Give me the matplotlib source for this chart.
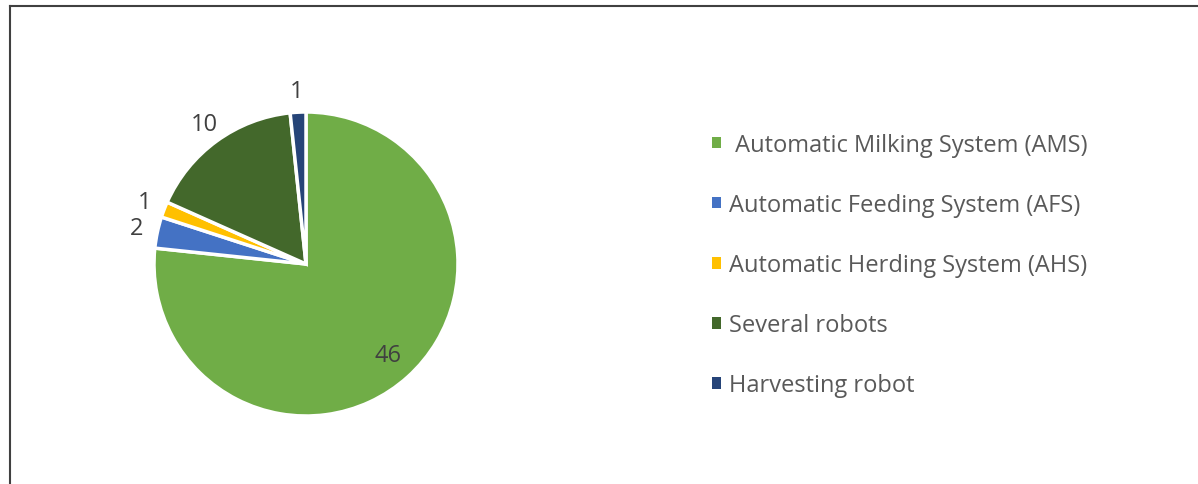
import numpy as np
import matplotlib.pyplot as plt
from matplotlib.lines import Line2D

plt.rcParams['font.family'] = ['Open Sans', 'DejaVu Sans']

categories = [' Automatic Milking System (AMS)', 'Automatic Feeding System (AFS)',
              'Automatic Herding System (AHS)', 'Several robots', 'Harvesting robot']
values = [46, 2, 1, 10, 1]
colors = ['#70AD47', '#4472C4', '#FFC000', '#43682B', '#264478']

fig = plt.figure(figsize=(11.98, 4.85), dpi=100)

# pie axes: centre ~ (306, 265) px, radius ~152 px
ax = fig.add_axes([154 / 1198, 68 / 485, 304 / 1198, 304 / 485])
wedges, _ = ax.pie(values, colors=colors, startangle=90, counterclock=False,
                   wedgeprops=dict(edgecolor='white', linewidth=2.5))
ax.set_xlim(-1, 1)
ax.set_ylim(-1, 1)
ax.set_aspect('equal')
ax.axis('off')

# data labels: big slice inside, small ones outside
for w, v in zip(wedges, values):
    ang = np.deg2rad((w.theta1 + w.theta2) / 2)
    r = 0.81 if v > 20 else 1.14
    ax.text(r * np.cos(ang), r * np.sin(ang), str(v), ha='center', va='center',
            fontsize=17, color='#404040', clip_on=False)

leg = fig.legend(wedges, categories, loc='upper left',
                 bbox_to_anchor=(712 / 1198, 1 - 134 / 485), borderpad=0, borderaxespad=0,
                 frameon=False, fontsize=17, labelcolor='#595959',
                 handlelength=0.38, handleheight=0.38, handletextpad=0.34, labelspacing=1.53)
for h in leg.legend_handles:
    h.set_linewidth(0)

# frame lines (left and top only, as in the source image)
fig.add_artist(Line2D([9.5 / 1198, 9.5 / 1198], [0, 1 - 7 / 485], color='#404040', lw=1.5,
                      transform=fig.transFigure))
fig.add_artist(Line2D([9.5 / 1198, 1], [1 - 7 / 485, 1 - 7 / 485], color='#404040', lw=1.5,
                      transform=fig.transFigure))

fig.savefig('out.png', dpi=100)
